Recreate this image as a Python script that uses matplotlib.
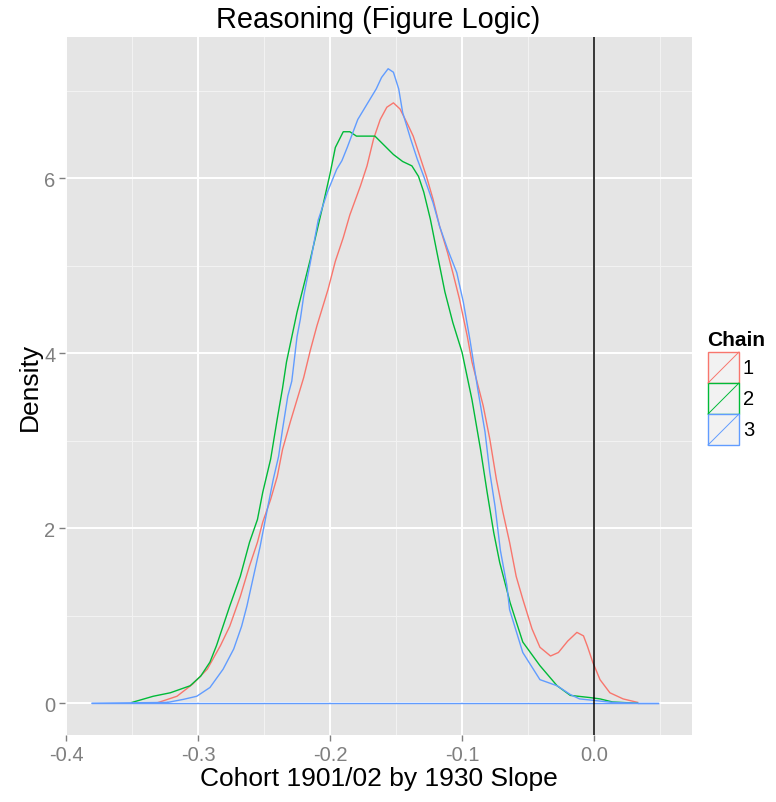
import matplotlib
matplotlib.use("Agg")
import matplotlib.pyplot as plt
from matplotlib.patches import Rectangle
from matplotlib.lines import Line2D

# ---- data ----
chains = ["1", "2", "3"]
colors = ["#F8766D", "#00BA38", "#619CFF"]
x_min, x_max = -0.3803, 0.0485

x_chain1 = [-0.330, -0.316, -0.304, -0.293, -0.283, -0.276, -0.268, -0.261, -0.255, -0.251,
            -0.245, -0.240, -0.236, -0.230, -0.225, -0.220, -0.215, -0.210, -0.2015, -0.196,
            -0.190, -0.185, -0.177, -0.172, -0.167, -0.162, -0.157, -0.152, -0.147, -0.142,
            -0.137, -0.132, -0.127, -0.122, -0.117, -0.111, -0.107, -0.102, -0.096, -0.0925,
            -0.084, -0.079, -0.074, -0.069, -0.064, -0.059, -0.054, -0.047, -0.041, -0.033,
            -0.027, -0.020, -0.013, -0.008, -0.005, -0.001, 0.0045, 0.012, 0.022, 0.033]
y_chain1 = [0.01, 0.08, 0.22, 0.39, 0.66, 0.88, 1.22, 1.57, 1.84, 2.07,
            2.33, 2.59, 2.90, 3.22, 3.47, 3.72, 4.03, 4.31, 4.73, 5.05,
            5.32, 5.58, 5.91, 6.14, 6.45, 6.67, 6.81, 6.86, 6.79, 6.64,
            6.48, 6.25, 6.02, 5.76, 5.45, 5.15, 4.92, 4.62, 4.19, 3.90,
            3.40, 3.02, 2.56, 2.18, 1.84, 1.45, 1.19, 0.85, 0.64, 0.54,
            0.58, 0.71, 0.81, 0.77, 0.65, 0.47, 0.27, 0.12, 0.05, 0.01]

x_chain2 = [-0.350, -0.334, -0.321, -0.306, -0.298, -0.291, -0.286, -0.276, -0.268, -0.261,
            -0.255, -0.251, -0.245, -0.240, -0.236, -0.233, -0.225, -0.215, -0.206, -0.200,
            -0.196, -0.190, -0.185, -0.180, -0.172, -0.166, -0.160, -0.152, -0.145, -0.138,
            -0.133, -0.129, -0.124, -0.119, -0.113, -0.107, -0.100, -0.0925, -0.086, -0.081,
            -0.076, -0.0715, -0.0636, -0.054, -0.041, -0.028, -0.018, -0.003, 0.0045, 0.014,
            0.033]
y_chain2 = [0.01, 0.08, 0.12, 0.20, 0.31, 0.47, 0.66, 1.11, 1.45, 1.84,
            2.10, 2.41, 2.79, 3.25, 3.60, 3.90, 4.47, 5.07, 5.65, 6.05,
            6.35, 6.53, 6.53, 6.48, 6.48, 6.48, 6.39, 6.27, 6.19, 6.14,
            6.02, 5.84, 5.53, 5.15, 4.70, 4.35, 4.01, 3.47, 2.90, 2.41,
            1.95, 1.61, 1.15, 0.70, 0.43, 0.20, 0.09, 0.065, 0.05, 0.015,
            0.0]

x_chain3 = [-0.323, -0.311, -0.301, -0.291, -0.281, -0.273, -0.267, -0.263, -0.258, -0.253,
            -0.248, -0.243, -0.239, -0.236, -0.232, -0.229, -0.225, -0.2225, -0.220, -0.215,
            -0.209, -0.202, -0.195, -0.191, -0.187, -0.184, -0.179, -0.171, -0.165, -0.161,
            -0.156, -0.152, -0.148, -0.145, -0.139, -0.134, -0.129, -0.122, -0.117, -0.111,
            -0.104, -0.099, -0.094, -0.088, -0.0826, -0.079, -0.075, -0.071, -0.066, -0.064,
            -0.054, -0.041, -0.028, -0.018, -0.011, 0.014, 0.033]
y_chain3 = [0.01, 0.045, 0.08, 0.18, 0.39, 0.62, 0.88, 1.11, 1.45, 1.79,
            2.18, 2.56, 2.82, 3.13, 3.51, 3.68, 4.19, 4.39, 4.65, 5.03,
            5.52, 5.84, 6.10, 6.20, 6.35, 6.47, 6.67, 6.87, 7.02, 7.15,
            7.25, 7.21, 7.02, 6.75, 6.45, 6.22, 6.02, 5.72, 5.45, 5.19,
            4.92, 4.58, 4.15, 3.58, 3.10, 2.64, 2.25, 1.75, 1.34, 1.07,
            0.58, 0.27, 0.20, 0.10, 0.05, 0.01, 0.0]

xs = [x_chain1, x_chain2, x_chain3]
ys = [y_chain1, y_chain2, y_chain3]

x_ticks = [-0.4, -0.3, -0.2, -0.1, 0.0]
x_tick_labels = ["-0.4", "-0.3", "-0.2", "-0.1", "0.0"]
y_ticks = [0, 2, 4, 6]
y_tick_labels = ["0", "2", "4", "6"]
vline_x = 0.0

title = "Reasoning (Figure Logic)"
x_label = "Cohort 1901/02 by 1930 Slope"
y_label = "Density"
legend_title = "Chain"

# ---- figure ----
W, H = 776, 803
plt.rcParams['font.family'] = ['Liberation Sans', 'DejaVu Sans']
fig = plt.figure(figsize=(W / 100, H / 100), dpi=100)
fig.patch.set_facecolor("white")

def fx(px):
    return px / W

def fy(py):
    return 1 - py / H

pl, pr, pt, pb = 65, 692, 38, 736
ax = fig.add_axes([fx(pl), fy(pb), fx(pr) - fx(pl), fy(pt) - fy(pb)])
ax.set_facecolor("#E5E5E5")
ax.set_xlim(-0.4008, 0.0742)
ax.set_ylim(-0.3625, 7.6125)
for s in ax.spines.values():
    s.set_visible(False)

# grid
for v in [-0.35, -0.25, -0.15, -0.05, 0.05]:
    ax.axvline(v, color="#F2F2F2", lw=0.8, zorder=0)
for v in [1, 3, 5, 7]:
    ax.axhline(v, color="#F2F2F2", lw=0.8, zorder=0)
for v in x_ticks:
    ax.axvline(v, color="white", lw=1.4, zorder=0.5)
for v in y_ticks:
    ax.axhline(v, color="white", lw=1.4, zorder=0.5)

# density outlines (curve part); the shared baseline is drawn once by the last chain
n = len(xs)
for i, (x, y, c) in enumerate(zip(xs, ys, colors)):
    ax.plot(list(x), list(y), color=c, lw=1.0, zorder=2, solid_joinstyle="round")
    if i == n - 1:
        ax.plot([x_min, x[0]], [0, y[0]], color=c, lw=1.0, zorder=2)
        ax.plot([x[-1], x_max], [y[-1], 0], color=c, lw=1.0, zorder=2)
        ax.plot([x_min, x_max], [0, 0], color=c, lw=1.0, zorder=2.5)

ax.axvline(vline_x, color="black", lw=1.1, zorder=3)

ax.set_xticks(x_ticks)
ax.set_xticklabels(x_tick_labels)
ax.set_yticks(y_ticks)
ax.set_yticklabels(y_tick_labels)
ax.tick_params(axis="both", colors="#7F7F7F", labelcolor="#7F7F7F", length=4, width=1,
               labelsize=14.5, pad=3)

fig.text(fx((pl + pr) / 2), fy(20), title, ha="center", va="center", fontsize=20.8, color="black")
fig.text(fx((pl + pr) / 2), fy(779), x_label, ha="center", va="center", fontsize=19, color="black")
fig.text(fx(30), fy((pt + pb) / 2), y_label, ha="center", va="center", rotation=90,
         fontsize=19, color="black")

# legend
fig.text(fx(707), fy(340), legend_title, ha="left", va="center", fontsize=15,
         fontweight="bold", color="black")
key_w, key_h = 31, 31
for i, (lab, c) in enumerate(zip(chains, colors)):
    top = 353 + i * key_h
    r = Rectangle((fx(708), fy(top + key_h)), fx(key_w), key_h / H, transform=fig.transFigure,
                  facecolor="#F2F2F2", edgecolor=c, lw=1.0)
    fig.add_artist(r)
    fig.add_artist(Line2D([fx(708), fx(708 + key_w)], [fy(top + key_h), fy(top)],
                          transform=fig.transFigure, color=c, lw=0.7))
    fig.text(fx(743), fy(top + key_h / 2), lab, ha="left", va="center", fontsize=14.5,
             color="black")

fig.savefig("out.png", dpi=100)
